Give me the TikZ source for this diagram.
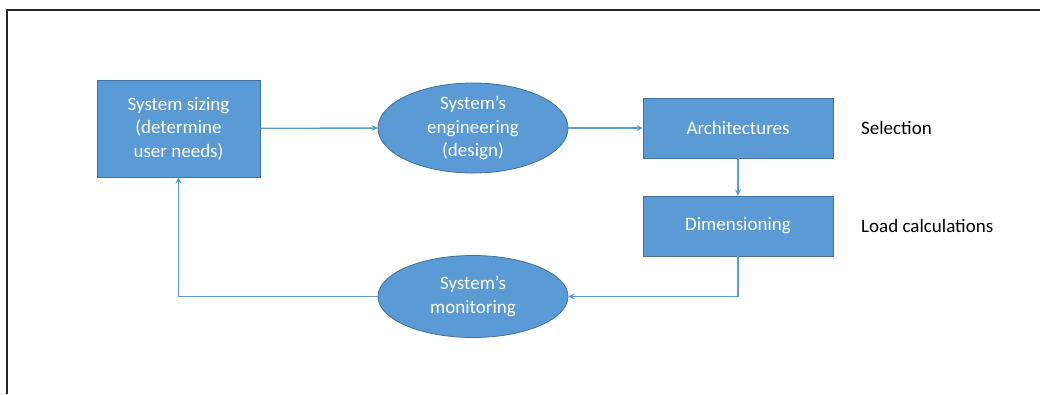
\documentclass[tikz,border=0pt]{standalone}
\usepackage{fontspec}
\setmainfont{Carlito}
\usetikzlibrary{shapes.geometric,arrows.meta}
\definecolor{boxblue}{HTML}{5B9BD5}
\definecolor{edgeblue}{HTML}{41719C}
\tikzset{
  procbox/.style={draw=edgeblue, line width=0.8pt, fill=boxblue, text=white,
    minimum width=#1, inner sep=0pt, align=center, font=\fontsize{19}{23.5}\selectfont},
  procbox/.default=190pt,
  procell/.style={ellipse, draw=edgeblue, line width=0.8pt, fill=boxblue, text=white,
    minimum width=190pt, minimum height=82pt, inner sep=0pt, align=center,
    font=\fontsize{19}{23.5}\selectfont},
  note/.style={text=black, anchor=west, inner sep=0pt, font=\fontsize{19}{23.5}\selectfont},
  flow/.style={draw=boxblue, line width=1.5pt, -{Stealth[length=6pt,width=6pt]}},
  frameline/.style={draw=black!85, line width=1.6pt}
}
\begin{document}
\begin{tikzpicture}[x=1pt,y=-1pt]
  \useasboundingbox (0,0) rectangle (1040,394);
  % page frame (top and left edges)
  \draw[frameline] (7,394) -- (7,10) -- (1040,10);

  % process steps
  \node[procbox=163pt, minimum height=97pt] (sizing) at (178.5,128.5)
    {System sizing\\(determine\\user needs)};
  \node[procell] (eng) at (473,128) {System’s\\engineering\\(design)};
  \node[procbox, minimum height=60pt] (arch) at (738,128) {Architectures};
  \node[procbox, minimum height=60pt] (dim) at (738,226) {Dimensioning};
  \node[procell] (mon) at (473,296.5) {System’s\\monitoring};

  % side notes
  \node[note] (sel) at (861,128) {Selection};
  \node[note] (load) at (861,226) {Load calculations};

  % connectors
  \draw[flow] (sizing.east) -- (eng.west);
  \draw[flow] (eng.east) -- (arch.west);
  \draw[flow] (arch.south) -- (dim.north);
  \draw[flow] (dim.south) |- (mon.east);
  \draw[flow] (mon.west) -| (sizing.south);
\end{tikzpicture}
\end{document}
